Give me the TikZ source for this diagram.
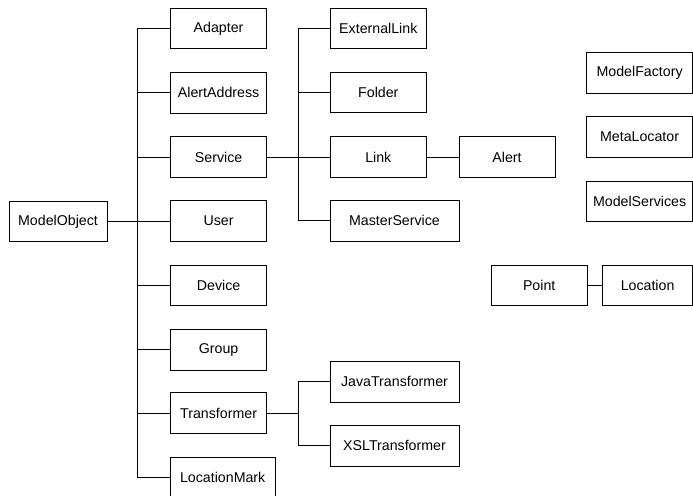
\documentclass[tikz,border=0pt]{standalone}
\usepackage{fontspec}
\setmainfont{Liberation Sans}
\begin{document}
\begin{tikzpicture}[x=1pt,y=-1pt,
  cls/.style={draw=black, line width=0.9pt, rectangle, minimum height=40.5pt,
    inner sep=0pt, font=\fontsize{14.2}{16}\selectfont},
  link/.style={draw=black, line width=0.9pt}]
\useasboundingbox (0,0) rectangle (693,495);

% root class
\node[cls, minimum width=98pt] (mo) at (58,221.5) {ModelObject};

% first level
\node[cls, minimum width=96.2pt] (ad) at (218.6,28.5) {Adapter};
\node[cls, minimum width=96.2pt] (aa) at (218.6,92.9) {AlertAddress};
\node[cls, minimum width=96.2pt] (sv) at (218.6,157) {Service};
\node[cls, minimum width=96.2pt] (us) at (218.6,221) {User};
\node[cls, minimum width=96.2pt] (dv) at (218.6,285.3) {Device};
\node[cls, minimum width=96.2pt] (gr) at (218.6,349.7) {Group};
\node[cls, minimum width=96.2pt] (tf) at (218.6,413) {Transformer};
\node[cls, minimum width=104.5pt] (lm) at (222.7,477.6) {LocationMark};

% Service subclasses
\node[cls, minimum width=96.7pt] (el) at (378.3,28.6) {ExternalLink};
\node[cls, minimum width=96.7pt] (fo) at (378.3,92.6) {Folder};
\node[cls, minimum width=96.7pt] (li) at (378.3,157) {Link};
\node[cls, minimum width=129pt] (ms) at (394.5,220.9) {MasterService};
\node[cls, minimum width=96pt] (al) at (507,157) {Alert};

% Transformer subclasses
\node[cls, minimum width=129pt] (jt) at (394.5,381.9) {JavaTransformer};
\node[cls, minimum width=129pt] (xt) at (394.5,445.7) {XSLTransformer};

% stand-alone classes
\node[cls, minimum width=105.8pt] (mf) at (639.6,72.7) {ModelFactory};
\node[cls, minimum width=105.8pt] (ml) at (639.6,137) {MetaLocator};
\node[cls, minimum width=105.8pt] (mse) at (639.6,201.3) {ModelServices};
\node[cls, minimum width=96.3pt] (pt) at (539.2,285.3) {Point};
\node[cls, minimum width=89.8pt] (lo) at (647.6,285.3) {Location};

% trunk positions
\coordinate (t1) at (137.8,0);
\coordinate (t2) at (298.3,0);

% ModelObject tree
\draw[link] (mo.east) -- (mo.east -| t1);
\draw[link] (ad.west -| t1) -- (lm.west -| t1);
\foreach \n in {ad,aa,sv,us,dv,gr,tf,lm}
  \draw[link] (\n.west) -- (\n.west -| t1);

% Service tree
\draw[link] (sv.east) -- (sv.east -| t2);
\draw[link] (el.west -| t2) -- (ms.west -| t2);
\foreach \n in {el,fo,li,ms}
  \draw[link] (\n.west) -- (\n.west -| t2);
\draw[link] (li.east) -- (li.east -| al.west);

% Transformer tree
\draw[link] (tf.east) -- (tf.east -| t2);
\draw[link] (jt.west -| t2) -- (xt.west -| t2);
\foreach \n in {jt,xt}
  \draw[link] (\n.west) -- (\n.west -| t2);

% Point -- Location
\draw[link] (pt.east) -- (pt.east -| lo.west);
\end{tikzpicture}
\end{document}
